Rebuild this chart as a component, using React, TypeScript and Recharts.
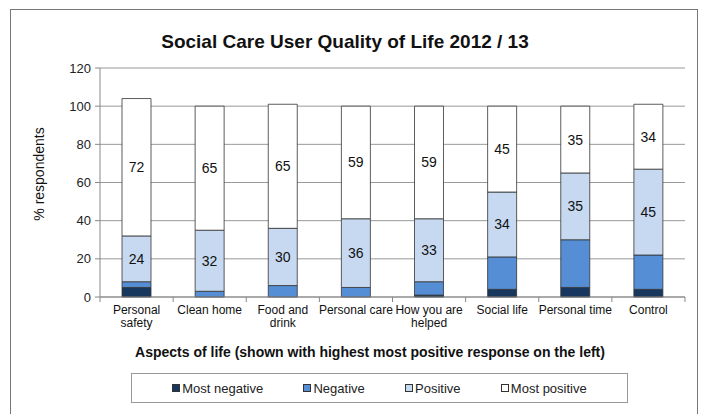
import React from 'react';
import { BarChart, Bar, XAxis, YAxis, CartesianGrid, LabelList } from 'recharts';

const categories = ['Personal\nsafety', 'Clean home', 'Food and\ndrink', 'Personal care', 'How you are\nhelped', 'Social life', 'Personal time', 'Control'];
const mostNegative = [5, 0, 0, 0, 1, 4, 5, 4];
const negative = [3, 3, 6, 5, 7, 17, 25, 18];
const positive = [24, 32, 30, 36, 33, 34, 35, 45];
const mostPositive = [72, 65, 65, 59, 59, 45, 35, 34];
const yTicks = [0, 20, 40, 60, 80, 100, 120];

const seriesNames = ['Most negative', 'Negative', 'Positive', 'Most positive'];
const colors = ['#17375E', '#558ED5', '#C6D9F1', '#FFFFFF'];

const data = categories.map((c, i) => ({
  name: c,
  mostNegative: mostNegative[i],
  negative: negative[i],
  positive: positive[i],
  mostPositive: mostPositive[i],
}));

const FONT = "'Liberation Sans', Arial, sans-serif";
const W = 702;
const H = 414;
const xAxisHeight = 30;
const margin = { top: 68, right: 17, bottom: 117 - xAxisHeight, left: 0 };
const yAxisWidth = 100;
const plotWidth = W - margin.left - margin.right - yAxisWidth;
const band = plotWidth / categories.length;

const XTick = (props: any) => {
  const { x, y, payload } = props;
  const lines = String(payload.value).split('\n');
  return (
    <g>
      <line x1={x + band / 2} x2={x + band / 2} y1={y - 8} y2={y - 3} stroke="#888" />
      {payload.index === 0 && (
        <line x1={x - band / 2} x2={x - band / 2} y1={y - 8} y2={y - 3} stroke="#888" />
      )}
      {lines.map((l, i) => (
        <text key={i} x={x} y={y + 9 + i * 13} textAnchor="middle" fontSize={12} fill="#111" style={{ fontFamily: FONT }}>
          {l}
        </text>
      ))}
    </g>
  );
};

const LegendBox = () => (
  <div
    style={{
      position: 'absolute',
      left: 131,
      top: 373,
      width: 495,
      height: 28,
      border: '1px solid #999',
      display: 'flex',
      justifyContent: 'space-evenly',
      alignItems: 'center',
      fontFamily: FONT,
      fontSize: 13,
      color: '#222',
    }}
  >
    {seriesNames.map((n, i) => (
      <span key={n} style={{ display: 'flex', alignItems: 'center' }}>
        <span style={{ display: 'inline-block', width: 6, height: 6, background: colors[i], border: '1px solid #333', marginRight: 2 }} />
        {n}
      </span>
    ))}
  </div>
);

export default function App() {
  return (
    <div style={{ position: 'absolute', left: 0, top: 0, width: W, height: H, background: '#fff', overflow: 'hidden', fontFamily: FONT }}>
      <div style={{ position: 'absolute', left: 10, top: 9, width: 686, height: 430, border: '1px solid #777' }} />
      <div style={{ position: 'absolute', left: 0, top: 0 }}>
        <BarChart width={W} height={H} data={data} margin={margin}>
          <text x={345} y={48} textAnchor="middle" fontSize={19} fontWeight="bold" fill="#111" style={{ fontFamily: FONT }}>
            Social Care User Quality of Life 2012 / 13
          </text>
          <text x={370} y={357} textAnchor="middle" fontSize={14} fontWeight="bold" fill="#111" style={{ fontFamily: FONT }}>
            Aspects of life (shown with highest most positive response on the left)
          </text>
          <text x={44} y={174} textAnchor="middle" fontSize={14} fill="#111" transform="rotate(-90 44 174)" style={{ fontFamily: FONT }}>
            % respondents
          </text>
          <CartesianGrid vertical={false} stroke="#999" />
          <XAxis dataKey="name" height={xAxisHeight} tick={<XTick />} tickLine={false} axisLine={{ stroke: '#888' }} interval={0} />
          <YAxis
            domain={[0, 120]}
            ticks={yTicks}
            width={yAxisWidth}
            tickSize={5}
            tickMargin={4}
            tickLine={{ stroke: '#888' }}
            axisLine={{ stroke: '#888' }}
            tick={{ fontSize: 13, fill: '#222', fontFamily: FONT }}
          />
          <YAxis yAxisId="right" orientation="right" width={0} domain={[0, 120]} tick={false} tickLine={false} axisLine={{ stroke: '#999' }} />
          <Bar dataKey="mostNegative" name={seriesNames[0]} stackId="a" fill={colors[0]} stroke="#333" strokeWidth={0.8} barSize={29} isAnimationActive={false} />
          <Bar dataKey="negative" name={seriesNames[1]} stackId="a" fill={colors[1]} stroke="#333" strokeWidth={0.8} barSize={29} isAnimationActive={false} />
          <Bar dataKey="positive" name={seriesNames[2]} stackId="a" fill={colors[2]} stroke="#333" strokeWidth={0.8} barSize={29} isAnimationActive={false}>
            <LabelList dataKey="positive" position="center" fontSize={14} fill="#111" fontFamily={FONT} />
          </Bar>
          <Bar dataKey="mostPositive" name={seriesNames[3]} stackId="a" fill={colors[3]} stroke="#333" strokeWidth={0.8} barSize={29} isAnimationActive={false}>
            <LabelList dataKey="mostPositive" position="center" fontSize={14} fill="#111" fontFamily={FONT} />
          </Bar>
        </BarChart>
      </div>
      <LegendBox />
    </div>
  );
}
